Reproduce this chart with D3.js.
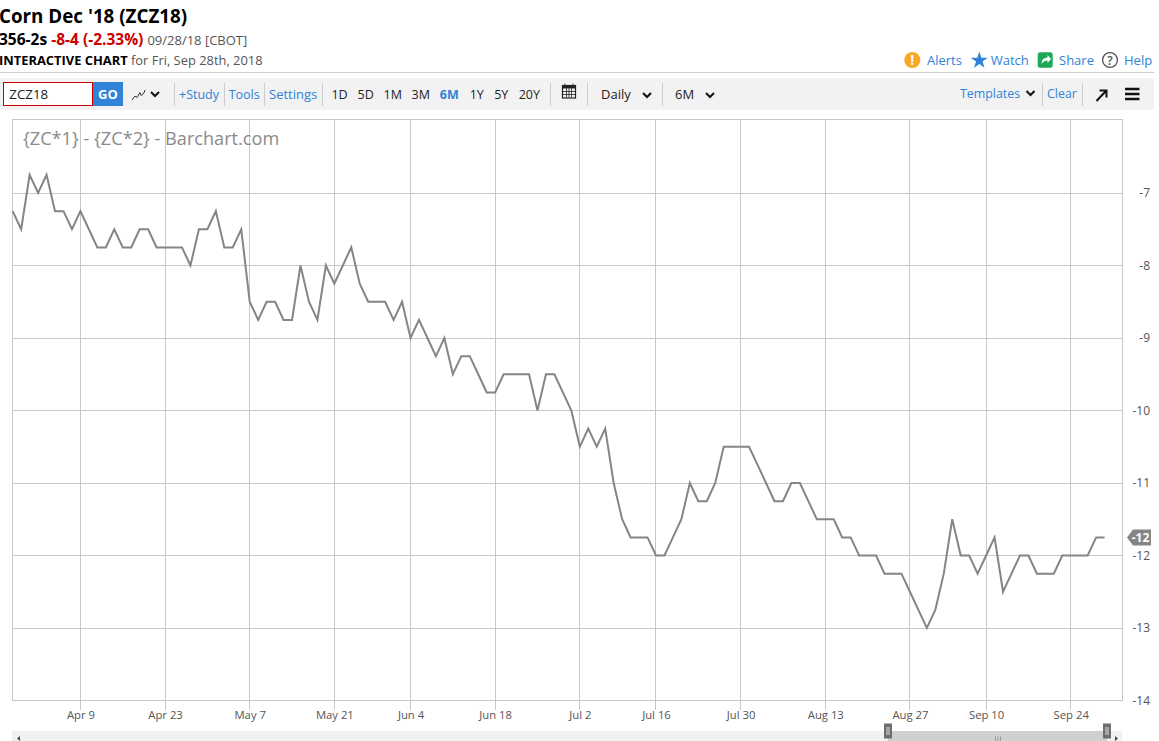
<!DOCTYPE html>
<html><head><meta charset="utf-8">
<style>
html,body{margin:0;padding:0;background:#fff;overflow:hidden}
svg{display:block;font-family:"Open Sans",sans-serif}
</style>
<script src="https://cdnjs.cloudflare.com/ajax/libs/d3/7.8.5/d3.min.js"></script>
</head><body><svg id="c" width="1159" height="741"></svg>
<script>
const sessions = [
"Mar 27","Mar 28","Mar 29","Apr 2","Apr 3","Apr 4","Apr 5","Apr 6","Apr 9","Apr 10","Apr 11","Apr 12","Apr 13","Apr 16","Apr 17","Apr 18","Apr 19","Apr 20",
"Apr 23","Apr 24","Apr 25","Apr 26","Apr 27","Apr 30","May 1","May 2","May 3","May 4","May 7","May 8","May 9","May 10","May 11","May 14","May 15","May 16","May 17","May 18",
"May 21","May 22","May 23","May 24","May 25","May 29","May 30","May 31","Jun 1","Jun 4","Jun 5","Jun 6","Jun 7","Jun 8","Jun 11","Jun 12","Jun 13","Jun 14","Jun 15",
"Jun 18","Jun 19","Jun 20","Jun 21","Jun 22","Jun 25","Jun 26","Jun 27","Jun 28","Jun 29","Jul 2","Jul 3","Jul 5","Jul 6","Jul 9","Jul 10","Jul 11","Jul 12","Jul 13",
"Jul 16","Jul 17","Jul 18","Jul 19","Jul 20","Jul 23","Jul 24","Jul 25","Jul 26","Jul 27","Jul 30","Jul 31","Aug 1","Aug 2","Aug 3","Aug 6","Aug 7","Aug 8","Aug 9","Aug 10",
"Aug 13","Aug 14","Aug 15","Aug 16","Aug 17","Aug 20","Aug 21","Aug 22","Aug 23","Aug 24","Aug 27","Aug 28","Aug 29","Aug 30","Aug 31","Sep 4","Sep 5","Sep 6","Sep 7",
"Sep 10","Sep 11","Sep 12","Sep 13","Sep 14","Sep 17","Sep 18","Sep 19","Sep 20","Sep 21","Sep 24","Sep 25","Sep 26","Sep 27","Sep 28"];
const spread = [
-7.25,-7.5,-6.75,-7,-6.75,-7.25,-7.25,-7.5,-7.25,-7.5,-7.75,-7.75,-7.5,-7.75,-7.75,-7.5,-7.5,-7.75,
-7.75,-7.75,-7.75,-8,-7.5,-7.5,-7.25,-7.75,-7.75,-7.5,-8.5,-8.75,-8.5,-8.5,-8.75,-8.75,-8,-8.5,-8.75,-8,
-8.25,-8,-7.75,-8.25,-8.5,-8.5,-8.5,-8.75,-8.5,-9,-8.75,-9,-9.25,-9,-9.5,-9.25,-9.25,-9.5,-9.75,
-9.75,-9.5,-9.5,-9.5,-9.5,-10,-9.5,-9.5,-9.75,-10,-10.5,-10.25,-10.5,-10.25,-11,-11.5,-11.75,-11.75,-11.75,
-12,-12,-11.75,-11.5,-11,-11.25,-11.25,-11,-10.5,-10.5,-10.5,-10.5,-10.75,-11,-11.25,-11.25,-11,-11,-11.25,-11.5,
-11.5,-11.5,-11.75,-11.75,-12,-12,-12,-12.25,-12.25,-12.25,-12.5,-12.75,-13,-12.75,-12.25,-11.5,-12,-12,-12.25,
-12,-11.75,-12.5,-12.25,-12,-12,-12.25,-12.25,-12.25,-12,-12,-12,-12,-11.75,-11.75];
const dateTicks = ["Apr 9","Apr 23","May 7","May 21","Jun 4","Jun 18","Jul 2","Jul 16","Jul 30","Aug 13","Aug 27","Sep 10","Sep 24"];
const valueTicks = [-7,-8,-9,-10,-11,-12,-13,-14];
const lastLabel = "-12";
const rangePeriods = ["1D","5D","1M","3M","6M","1Y","5Y","20Y"];

const svg = d3.select("#c");
const frame = {l:12.5,r:1122.5,t:119.5,b:700.5};
const x = d3.scalePoint().domain(sessions).range([12.7,1104.6]);
const y = d3.scaleLinear().domain([-14,-6]).range([700.5,120.5]);

const txt = (X,Y,s,o={}) => svg.append("text").attr("x",X).attr("y",Y).text(s)
  .attr("font-size",o.size||13).attr("font-weight",o.w||400).attr("fill",o.c||"#333")
  .attr("text-anchor",o.a||"start");
const BLUE="#2f83d8";

// header
txt(-1,23,"Corn Dec '18 (ZCZ18)",{size:18.8,w:700,c:"#000"});
const l2=svg.append("text").attr("x",-1).attr("y",44.5).attr("font-size",15.5);
l2.append("tspan").text("356-2s ").attr("font-weight",700).attr("fill","#000");
l2.append("tspan").text("-8-4 (-2.33%) ").attr("font-weight",700).attr("fill","#c00");
l2.append("tspan").text("09/28/18 [CBOT]").attr("font-size",13).attr("fill","#555");
const l3=svg.append("text").attr("x",-1).attr("y",65).attr("font-size",12.9);
l3.append("tspan").text("INTERACTIVE CHART ").attr("font-weight",700).attr("fill","#000");
l3.append("tspan").text("for Fri, Sep 28th, 2018").attr("fill","#555");

// top-right links
svg.append("circle").attr("cx",912.3).attr("cy",60).attr("r",8).attr("fill","#f9a825");
txt(912.3,65,"!",{size:14,w:700,c:"#fff",a:"middle"});
txt(927,65,"Alerts",{c:BLUE});
svg.append("path").attr("d",d3.symbol(d3.symbolStar,90)()).attr("transform","translate(979.3,60.5)").attr("fill",BLUE);
txt(990.7,65,"Watch",{c:BLUE});
svg.append("rect").attr("x",1037.7).attr("y",52.3).attr("width",15).attr("height",15.4).attr("rx",2.5).attr("fill","#1eaa55");
svg.append("path").attr("d","M1041.5 64q0-6.500 6-6.500v-2.500l3.500 4-3.500 4v-2.500q-4 0-6 3.500z").attr("fill","#fff");
txt(1059,65,"Share",{c:BLUE});
svg.append("circle").attr("cx",1110).attr("cy",60).attr("r",7.400).attr("fill","none").attr("stroke","#555").attr("stroke-width",1.300);
txt(1110,64.500,"?",{size:12,w:600,c:"#555",a:"middle"});
txt(1124,65,"Help",{c:BLUE});
svg.append("line").attr("x1",0).attr("x2",1154).attr("y1",72.500).attr("y2",72.500).attr("stroke","#ccc");

// toolbar
svg.append("rect").attr("x",0).attr("y",78).attr("width",1154).attr("height",32).attr("fill","#f2f2f2");
svg.append("rect").attr("x",3.500).attr("y",82.500).attr("width",89).attr("height",23).attr("fill","#fff").attr("stroke","#c00");
txt(9.300,99,"ZCZ18",{c:"#222",size:13.300});
svg.append("rect").attr("x",93).attr("y",82).attr("width",30).attr("height",24).attr("fill",BLUE);
txt(108,98.500,"GO",{w:700,c:"#fff",a:"middle",size:13});
svg.append("path").attr("d","M132 100l3-4 2 1.500 3-5 1 3 3-2.500 1-3").attr("fill","none").attr("stroke","#333");
const chev=(cx,cy)=>svg.append("path").attr("d",`M${cx-4} ${cy-2}l4 4 4-4`).attr("fill","none").attr("stroke","#111").attr("stroke-width",2);
chev(155,94);
const sep=X=>svg.append("line").attr("x1",X+.5).attr("x2",X+.5).attr("y1",83).attr("y2",106).attr("stroke","#ccc");
[174,224,264,322,550,587,662,1042,1082].forEach(sep);
txt(179,98.500,"+Study",{c:BLUE,size:12.500}); txt(228.700,98.500,"Tools",{c:BLUE,size:12.500}); txt(269,98.500,"Settings",{c:BLUE});
const pos=[339.500,365.700,392.700,420.700,449.300,476.700,501.300,529.300];
rangePeriods.forEach((p,i)=>txt(pos[i],98.500,p,{a:"middle",c:p==="6M"?BLUE:"#222",w:p==="6M"?700:400,size:12.500}));
// calendar icon
const cal=svg.append("g").attr("transform","translate(562,83.500)");
cal.append("rect").attr("x",.5).attr("y",2).attr("width",13).attr("height",12.500).attr("fill","none").attr("stroke","#222").attr("stroke-width",1.200);
cal.append("rect").attr("x",.5).attr("y",2).attr("width",13).attr("height",3).attr("fill","#222");
cal.append("path").attr("d","M3 0v3M11 0v3M1 8h12M1 11h12M4.500 5v9M7 5v9M9.500 5v9").attr("stroke","#222").attr("stroke-width",.8);
txt(601,98.500,"Daily",{c:"#222"}); chev(647,95);
txt(675,98.500,"6M",{c:"#222"}); chev(710,95);
txt(960,98,"Templates",{c:BLUE,size:12.400}); chev(1030.500,93);
txt(1047,98,"Clear",{c:BLUE,size:12.400});
svg.append("path").attr("d","M1096.500 101l9-9.500M1099.500 90.500h7v7").attr("fill","none").attr("stroke","#111").attr("stroke-width",2);
svg.append("path").attr("d","M1125 89h14.500M1125 94h14.500M1125 99h14.500").attr("stroke","#111").attr("stroke-width",2.300);

// chart frame & grid
const gridCol="#c8c8c8";
svg.append("g").selectAll("line").data(valueTicks).join("line")
  .attr("x1",frame.l).attr("x2",frame.r).attr("y1",d=>Math.floor(y(d))+.5).attr("y2",d=>Math.floor(y(d))+.5).attr("stroke",gridCol);
svg.append("g").selectAll("line").data(dateTicks).join("line")
  .attr("x1",d=>Math.floor(x(d))+.5).attr("x2",d=>Math.floor(x(d))+.5).attr("y1",frame.t).attr("y2",frame.b+9.5).attr("stroke",gridCol);
svg.append("rect").attr("x",frame.l).attr("y",frame.t).attr("width",frame.r-frame.l).attr("height",frame.b-frame.t).attr("fill","none").attr("stroke",gridCol);

txt(23,145,"{ZC*1} - {ZC*2} - Barchart.com",{size:18.150,c:"#8a8a8a"});

// axes
const ax=svg.append("g").attr("transform",`translate(0,${frame.b})`).call(d3.axisBottom(x).tickValues(dateTicks).tickSize(0).tickPadding(10));
ax.select(".domain").remove();
ax.selectAll("text").attr("font-family","'Open Sans',sans-serif").attr("font-size",11.300).attr("fill","#555");
const ay=svg.append("g").attr("transform",`translate(1150,0)`).call(d3.axisLeft(y).tickValues(valueTicks).tickFormat(d=>String(d)).tickSize(0).tickPadding(0));
ay.select(".domain").remove();
ay.selectAll("text").attr("font-family","'Open Sans',sans-serif").attr("font-size",12).attr("fill","#555");

// series
const line=d3.line().x((d,i)=>x(sessions[i])).y(d=>y(d));
svg.append("path").datum(spread).attr("d",line).attr("fill","none").attr("stroke","#858585").attr("stroke-width",2).attr("stroke-linejoin","miter");

// last value tag
const ly=y(spread[spread.length-1]);
svg.append("path").attr("d",`M1127 ${ly}l6-8h18v16h-18z`).attr("fill","#858585");
txt(1140.500,ly+4.500,lastLabel,{size:12,w:700,c:"#fff",a:"middle"});

// navigator
svg.append("rect").attr("x",12).attr("y",731).attr("width",1110).attr("height",10).attr("fill","#f2f2f2");
svg.append("rect").attr("x",888).attr("y",731).attr("width",219).attr("height",10).attr("fill","#cfcfcf");
[888,1107].forEach(X=>{
  svg.append("rect").attr("x",X-4).attr("y",723.500).attr("width",8).attr("height",15).attr("fill","#6e6e6e");
  svg.append("path").attr("d",`M${X-1} 727v8M${X+1} 727v8`).attr("stroke","#ddd");
});
svg.append("path").attr("d","M995.500 736.500v4.500M998 736.500v4.500M1000.500 736.500v4.500").attr("stroke","#999");
svg.append("path").attr("d","M20 736l-3 2.500 3 2.500z").attr("fill","#444");
svg.append("path").attr("d","M1115 736l3 2.500-3 2.500z").attr("fill","#444");
</script></body></html>
